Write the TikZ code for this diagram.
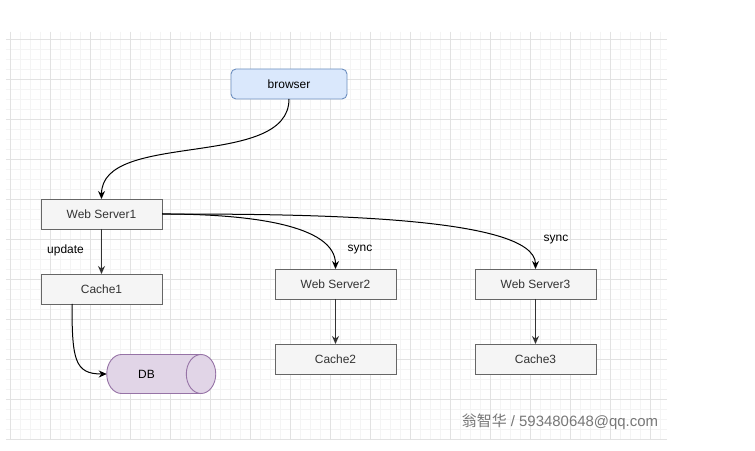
\documentclass[tikz,border=0pt]{standalone}
\usepackage{fontspec}
\setmainfont{Liberation Sans}
\newfontfamily\cjk{Noto Sans CJK SC}
\usepackage{tikz}
\usetikzlibrary{positioning,arrows.meta,shapes.geometric}
\usepackage{xcolor}
\definecolor{gridmajor}{HTML}{E2E2E2}
\definecolor{gridminor}{HTML}{F4F4F4}
\definecolor{boxfill}{HTML}{F5F5F5}
\definecolor{boxline}{HTML}{666666}
\definecolor{boxtext}{HTML}{333333}
\definecolor{bluefill}{HTML}{DAE8FC}
\definecolor{blueline}{HTML}{6C8EBF}
\definecolor{dbfill}{HTML}{E1D5E7}
\definecolor{dbline}{HTML}{9673A6}
\definecolor{marktext}{HTML}{777777}

\begin{document}
\begin{tikzpicture}[x=1bp,y=-1bp,>={Stealth[length=8bp,width=7bp]},
  server/.style={draw=boxline, fill=boxfill, text=boxtext, line width=0.9bp,
    minimum width=121bp, minimum height=30bp, inner sep=0pt, outer sep=0pt,
    font=\fontsize{12}{14}\selectfont},
  client/.style={server, draw=blueline, fill=bluefill, text=black,
    rounded corners=5bp, minimum width=116bp},
  store/.style={cylinder, draw=dbline, fill=dbfill, text=black, line width=0.9bp,
    minimum width=39bp, minimum height=109bp, aspect=0.77, inner xsep=0pt,
    inner ysep=15bp, outer sep=0pt, font=\fontsize{12}{14}\selectfont},
  edgelabel/.style={font=\fontsize{12}{14}\selectfont, inner sep=0pt},
  flow/.style={->, line width=1bp},
  down/.style={->, line width=1.4bp, black!80}]

\useasboundingbox (0,0) rectangle (755,451);
\fill[white] (0,0) rectangle (755,451);

\foreach \gx in {10,20,...,660}
  \draw[gridminor, line width=0.8bp] (\gx,32) -- (\gx,440);
\foreach \gy in {39,49,...,439}
  \draw[gridminor, line width=0.8bp] (6,\gy) -- (667,\gy);
\foreach \gx in {10,50,...,650}
  \draw[gridmajor, line width=0.8bp] (\gx,32) -- (\gx,440);
\foreach \gy in {39,79,...,439}
  \draw[gridmajor, line width=0.8bp] (6,\gy) -- (667,\gy);

\node[client] (browser) at (289,84) {browser};
\node[server] (ws1) at (101.5,214) {Web Server1};
\node[server] (cache1) at (101.5,289) {Cache1};
\node[store] (db) at (146.5,374) {DB};
\node[server] (ws2) at (335.5,284) {Web Server2};
\node[server] (cache2) at (335.5,359) {Cache2};
\node[server] (ws3) at (535.5,284) {Web Server3};
\node[server] (cache3) at (535.5,359) {Cache3};

\node[edgelabel] (upd) at (65.5,250) {update};
\node[edgelabel] (sync2) at (360,250) {sync};
\node[edgelabel] (sync3) at (556,240) {sync};

\draw[flow] (browser.south) .. controls +(0,71) and +(0,-69) .. (ws1.north);
\draw[flow] (ws1.east) .. controls +(88,0) and +(0,-44) .. (ws2.north);
\draw[flow] (ws1.east) .. controls +(138,0) and +(0,-54) .. (ws3.north);
\draw[flow] ([xshift=31bp]cache1.south west) .. controls +(0,56) and +(-32,0) .. (db.west);

\draw[down] (ws1) -- (cache1);
\draw[down] (ws2) -- (cache2);
\draw[down] (ws3) -- (cache3);

\node[text=marktext, font=\fontsize{15}{18}\selectfont, inner sep=0pt] (mark) at (560,422)
  {{\cjk 翁智华} / 593480648@qq.com};

\end{tikzpicture}
\end{document}
